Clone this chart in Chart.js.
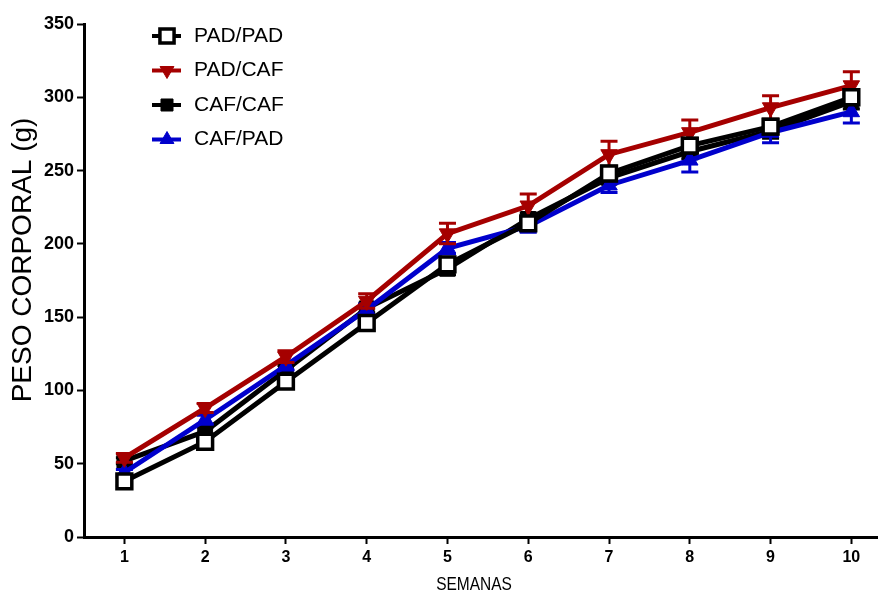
<!DOCTYPE html>
<html>
<head>
<meta charset="utf-8">
<title>Peso corporal</title>
<script src="https://cdn.jsdelivr.net/npm/chart.js@4.4.0/dist/chart.umd.min.js"></script>
<style>
  html, body { margin: 0; padding: 0; background: #fff; }
  #wrap { width: 878px; height: 591px; position: relative; }
</style>
</head>
<body>
<div id="wrap"><canvas id="chart-line"></canvas></div>
<script>
// semanas de tratamiento
const semanas = [1, 2, 3, 4, 5, 6, 7, 8, 9, 10];
const yTicks = [0, 50, 100, 150, 200, 250, 300, 350];

// peso corporal medio (g) por grupo
const padPad = [38, 65, 106, 146, 186, 214, 248, 267, 280, 300];
const padCaf = [54, 88, 123, 161, 207, 226, 261, 276, 293, 308];
const cafCaf = [52, 72, 114, 156, 183, 217, 245, 263, 277, 297];
const cafPad = [44, 80, 117, 155, 197, 212, 240, 257, 276, 290];

// error estandar (g)
const padPadSem = [3, 3, 4, 4, 4, 4, 5, 5, 5, 5];
const padCafSem = [3, 3, 4, 5, 7, 8, 9, 8.5, 8, 9.5];
const cafCafSem = [2, 3, 3, 3, 4, 4, 4, 5, 5, 5];
const cafPadSem = [2, 3, 3, 4, 4, 4, 5, 8, 7, 7.5];

const ROJO = '#a50000';
const AZUL = '#0000cc';

function puntos(vals) {
  return semanas.map((s, i) => ({ x: s, y: vals[i] }));
}

// barras de error dibujadas debajo de cada serie
const errorBars = {
  id: 'errorBars',
  beforeDatasetDraw(chart, args) {
    const ds = chart.data.datasets[args.index];
    if (!ds.sem) return;
    const y = chart.scales.y;
    const ctx = chart.ctx;
    ctx.save();
    ctx.strokeStyle = ds.borderColor;
    ctx.lineWidth = 3;
    args.meta.data.forEach((pt, i) => {
      const v = ds.data[i].y;
      const top = y.getPixelForValue(v + ds.sem[i]);
      const bot = y.getPixelForValue(v - ds.sem[i]);
      ctx.beginPath();
      ctx.moveTo(pt.x, top); ctx.lineTo(pt.x, bot);
      ctx.moveTo(pt.x - 8.5, top); ctx.lineTo(pt.x + 8.5, top);
      ctx.moveTo(pt.x - 8.5, bot); ctx.lineTo(pt.x + 8.5, bot);
      ctx.stroke();
    });
    ctx.restore();
  }
};

// leyenda dentro del area del grafico
const leyenda = {
  id: 'leyenda',
  afterDraw(chart) {
    const ctx = chart.ctx;
    chart.data.datasets.forEach((ds, i) => {
      const yy = 36 + i * 34.5;
      ctx.save();
      ctx.strokeStyle = ds.borderColor;
      ctx.lineWidth = 4;
      ctx.beginPath();
      ctx.moveTo(152, yy); ctx.lineTo(181, yy);
      ctx.stroke();
      ctx.fillStyle = ds.pointBackgroundColor;
      ctx.strokeStyle = ds.pointBorderColor;
      ctx.lineWidth = ds.pointBorderWidth;
      Chart.helpers.drawPoint(ctx, {
        pointStyle: ds.pointStyle,
        rotation: ds.pointRotation || 0,
        radius: ds.legendRadius,
        borderWidth: ds.pointBorderWidth
      }, 167, yy);
      ctx.fillStyle = '#000';
      ctx.font = '21px "Liberation Sans", Arial, sans-serif';
      ctx.textBaseline = 'middle';
      ctx.textAlign = 'left';
      ctx.fillText(ds.label, 194, yy);
      ctx.restore();
    });
  }
};

// titulos de los ejes
const titulos = {
  id: 'titulos',
  afterDraw(chart) {
    const ctx = chart.ctx;
    ctx.save();
    ctx.fillStyle = '#000';
    ctx.textAlign = 'center';
    ctx.textBaseline = 'middle';
    ctx.font = '28px "Liberation Sans", Arial, sans-serif';
    ctx.translate(23, 260);
    ctx.rotate(-Math.PI / 2);
    ctx.fillText('PESO CORPORAL (g)', 0, 0);
    ctx.restore();

    // rotulo algo estrecho, como en tipografia condensada
    ctx.save();
    ctx.fillStyle = '#000';
    ctx.textAlign = 'center';
    ctx.textBaseline = 'alphabetic';
    ctx.font = '18px "Liberation Sans", Arial, sans-serif';
    ctx.translate(474, 590);
    ctx.scale(0.86, 1);
    ctx.fillText('SEMANAS', 0, 0);
    ctx.restore();
  }
};

new Chart(document.getElementById('chart-line'), {
  type: 'line',
  data: {
    datasets: [
      {
        label: 'PAD/PAD', data: puntos(padPad), sem: padPadSem, order: 0,
        borderColor: '#000', borderWidth: 5,
        pointStyle: 'rect', pointRadius: 10.5, legendRadius: 10,
        pointBackgroundColor: '#fff', pointBorderColor: '#000', pointBorderWidth: 3.5
      },
      {
        label: 'PAD/CAF', data: puntos(padCaf), sem: padCafSem, order: 1,
        borderColor: ROJO, borderWidth: 5,
        pointStyle: 'triangle', pointRotation: 180, pointRadius: 9.5, legendRadius: 8,
        pointBackgroundColor: ROJO, pointBorderColor: ROJO, pointBorderWidth: 1
      },
      {
        label: 'CAF/CAF', data: puntos(cafCaf), sem: cafCafSem, order: 3,
        borderColor: '#000', borderWidth: 5,
        pointStyle: 'rect', pointRadius: 10.5, legendRadius: 8.5,
        pointBackgroundColor: '#000', pointBorderColor: '#000', pointBorderWidth: 1
      },
      {
        label: 'CAF/PAD', data: puntos(cafPad), sem: cafPadSem, order: 2,
        borderColor: AZUL, borderWidth: 5,
        pointStyle: 'triangle', pointRadius: 9.5, legendRadius: 8,
        pointBackgroundColor: AZUL, pointBorderColor: AZUL, pointBorderWidth: 1
      }
    ]
  },
  options: {
    responsive: true,
    maintainAspectRatio: false,
    animation: false,
    events: [],
    layout: { autoPadding: false, padding: { top: 24, right: 0, left: 0, bottom: 0 } },
    elements: { line: { tension: 0 } },
    plugins: { legend: { display: false }, tooltip: { enabled: false } },
    scales: {
      x: {
        type: 'linear', min: 0.5, max: 10.33,
        afterBuildTicks: s => { s.ticks = semanas.map(v => ({ value: v })); },
        afterFit: s => { s.height = 54; s.paddingLeft = 0; s.paddingRight = 0; },
        grid: { display: true, drawOnChartArea: false, drawTicks: true, tickLength: 7, tickWidth: 2, tickColor: '#000' },
        border: { display: true, color: '#000', width: 3 },
        ticks: {
          color: '#000', padding: 4, maxRotation: 0, autoSkip: false,
          font: { family: '"Liberation Sans", Arial, sans-serif', size: 16, weight: 'bold' }
        }
      },
      y: {
        min: 0, max: 350,
        afterBuildTicks: s => { s.ticks = yTicks.map(v => ({ value: v })); },
        afterFit: s => { s.width = 84; s.paddingTop = 0; s.paddingBottom = 0; },
        grid: { display: true, drawOnChartArea: false, drawTicks: true, tickLength: 7, tickWidth: 2, tickColor: '#000' },
        border: { display: true, color: '#000', width: 3 },
        ticks: {
          color: '#000', padding: 3,
          font: { family: '"Liberation Sans", Arial, sans-serif', size: 18, weight: 'bold' }
        }
      }
    }
  },
  plugins: [errorBars, leyenda, titulos]
});
</script>
</body>
</html>
